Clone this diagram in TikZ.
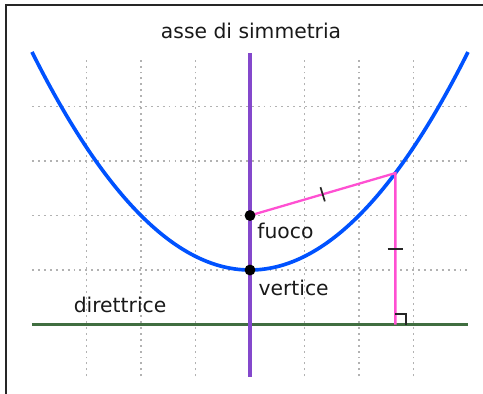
\documentclass[tikz,border=0pt]{standalone}
\usepackage{fontspec}
\setmainfont{DejaVu Sans}
\usetikzlibrary{calc}
\pgfdeclarelayer{front}
\pgfsetlayers{main,front}
\begin{document}
\begin{tikzpicture}[
  gridline/.style={draw=gray!60, line width=1pt, dash pattern=on 1pt off 2.1pt},
  parab/.style={draw={rgb,255:red,0;green,82;blue,255}, line width=1.9pt},
  axisline/.style={draw={rgb,255:red,132;green,72;blue,204}, line width=2pt},
  dirline/.style={draw={rgb,255:red,64;green,110;blue,64}, line width=1.9pt},
  pinkline/.style={draw={rgb,255:red,255;green,80;blue,210}, line width=1.2pt},
  tick/.style={draw=black!85, line width=0.9pt},
  dot/.style={circle, fill=black, inner sep=0pt, minimum size=0.2cm},
  lbl/.style={font=\fontsize{10.6}{12}\selectfont, inner sep=0pt, text=black!90},
  frame/.style={draw=black!85, line width=0.9pt}
]
\useasboundingbox (-4.587,-2.275) rectangle (4.275,4.954);
% frame
\draw[frame] (-4.477,-2.4) -- (-4.477,4.862) -- (4.4,4.862);
% grid
\foreach \x in {-3,-2,-1,1,2,3} \draw[gridline] (\x,-1.95) -- (\x,3.91);
\foreach \y in {0,1,2,3} \draw[gridline] (-4,\y) -- (4,\y);
% directrix
\draw[dirline] (-4,-1) -- (4,-1);
% axis
\draw[axisline] (0,-1.96) -- (0,3.98);
% parabola
\draw[parab] plot[domain=-4:4, samples=81, smooth] (\x,{\x*\x/4});
% points
\coordinate (P) at (2.667,{2.667*2.667/4});
\coordinate (D) at (2.667,-1);
\begin{pgfonlayer}{front}
\node[dot] (F) at (0,1) {};
\node[dot] (V) at (0,0) {};
\end{pgfonlayer}
\draw[pinkline] (F.center) -- (P) -- (D);
% ticks
\path (F.center) -- (P) coordinate[pos=0.5] (M1);
\draw[tick] ($(M1)+(-0.04,0.13)$) -- ($(M1)+(0.04,-0.13)$);
\path (P) -- (D) coordinate[pos=0.5] (M2);
\draw[tick] ($(M2)+(-0.14,0)$) -- ($(M2)+(0.14,0)$);
\draw[tick] ($(D)+(0,0.19)$) -- ($(D)+(0.2,0.19)$) -- ($(D)+(0.2,0)$);
% labels
\node[lbl, anchor=base] (title) at (0.02,4.239) {asse di simmetria};
\node[lbl, anchor=base west] (fuoco) at (0.13,0.569) {fuoco};
\node[lbl, anchor=base west] (vert) at (0.15,-0.472) {vertice};
\node[lbl, anchor=base west] (dir) at (-3.24,-0.776) {direttrice};
\end{tikzpicture}
\end{document}
